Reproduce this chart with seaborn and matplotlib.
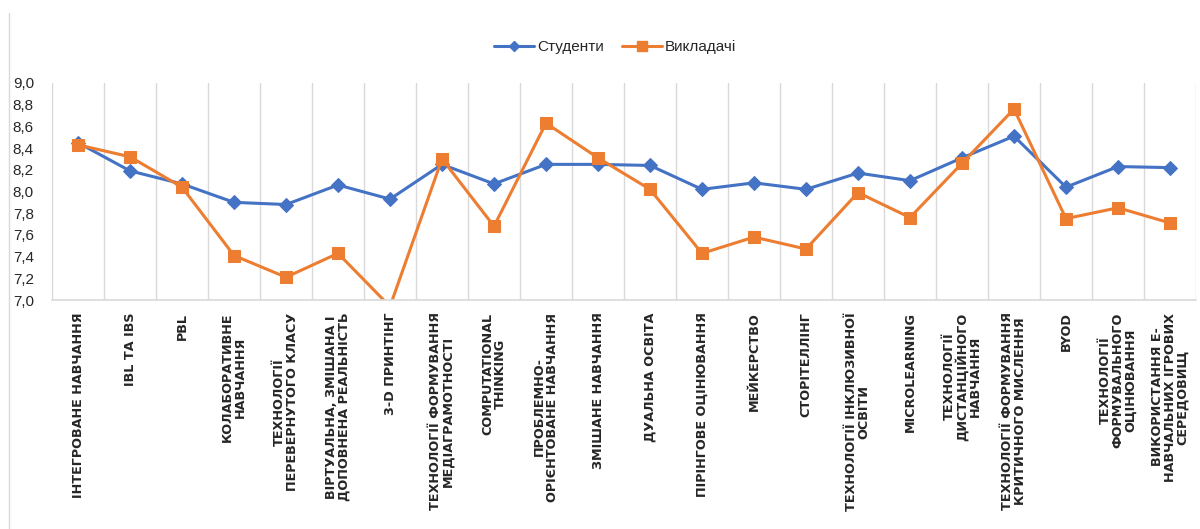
import numpy as np
import pandas as pd
import matplotlib
matplotlib.use("Agg")
import matplotlib.pyplot as plt
from matplotlib.lines import Line2D
import seaborn as sns

# categories (x axis), as shown on the chart
categories = [
    "ІНТЕГРОВАНЕ НАВЧАННЯ",
    "IBL ТА IBS",
    "PBL",
    "КОЛАБОРАТИВНЕ\nНАВЧАННЯ",
    "ТЕХНОЛОГІЇ\nПЕРЕВЕРНУТОГО КЛАСУ",
    "ВІРТУАЛЬНА, ЗМІШАНА І\nДОПОВНЕНА РЕАЛЬНІСТЬ",
    "3-D ПРИНТІНГ",
    "ТЕХНОЛОГІЇ ФОРМУВАННЯ\nМЕДІАГРАМОТНОСТІ",
    "COMPUTATIONAL\nTHINKING",
    "ПРОБЛЕМНО-\nОРІЄНТОВАНЕ НАВЧАННЯ",
    "ЗМІШАНЕ НАВЧАННЯ",
    "ДУАЛЬНА ОСВІТА",
    "ПІРІНГОВЕ ОЦІНЮВАННЯ",
    "МЕЙКЕРСТВО",
    "СТОРІТЕЛЛІНГ",
    "ТЕХНОЛОГІЇ ІНКЛЮЗИВНОЇ\nОСВІТИ",
    "MICROLEARNING",
    "ТЕХНОЛОГІЇ\nДИСТАНЦІЙНОГО\nНАВЧАННЯ",
    "ТЕХНОЛОГІЇ ФОРМУВАННЯ\nКРИТИЧНОГО МИСЛЕННЯ",
    "BYOD",
    "ТЕХНОЛОГІЇ\nФОРМУВАЛЬНОГО\nОЦІНЮВАННЯ",
    "ВИКОРИСТАННЯ Е-\nНАВЧАЛЬНИХ ІГРОВИХ\nСЕРЕДОВИЩ",
]

# mean scores
students = [8.45, 8.19, 8.07, 7.90, 7.88, 8.06, 7.93, 8.25, 8.07, 8.25, 8.25,
            8.24, 8.02, 8.08, 8.02, 8.17, 8.10, 8.31, 8.51, 8.04, 8.23, 8.22]
teachers = [8.43, 8.32, 8.04, 7.41, 7.21, 7.43, 6.94, 8.30, 7.68, 8.63, 8.31,
            8.02, 7.43, 7.58, 7.47, 7.99, 7.76, 8.26, 8.76, 7.75, 7.85, 7.71]

yticks = [7.0, 7.2, 7.4, 7.6, 7.8, 8.0, 8.2, 8.4, 8.6, 8.8, 9.0]

sns.set_style("white")
plt.rcParams["font.family"] = ["DejaVu Sans"]

blue = "#4472C4"
orange = "#ED7D31"
grid_col = "#D9D9D9"

df = pd.DataFrame({"pos": np.arange(len(categories)),
                   "Студенти": students, "Викладачі": teachers})

fig = plt.figure(figsize=(12, 5.29), dpi=100)
ax = fig.add_axes([52 / 1200, 1 - 300 / 529, 1144 / 1200, 217 / 529])

sns.lineplot(data=df, x="pos", y="Студенти", ax=ax, color=blue, linewidth=2.2,
             marker="D", markersize=7, markeredgecolor=blue, label="Студенти")
sns.lineplot(data=df, x="pos", y="Викладачі", ax=ax, color=orange, linewidth=2.2,
             marker="s", markersize=8, markeredgecolor=orange, label="Викладачі")

ax.set_xlim(-0.5, len(categories) - 0.5)
ax.set_ylim(7.0, 9.0)

# vertical grid between categories
ax.set_xticks(np.arange(-0.5, len(categories), 1.0), minor=True)
ax.grid(True, which="minor", axis="x", color=grid_col, linewidth=1)
ax.grid(False, which="major")
ax.tick_params(which="both", length=0)

ax.set_xticks(np.arange(len(categories)))
ax.set_xticklabels(categories, rotation=90, fontsize=9.2, color="#262626",
                   fontweight="bold", family=["DejaVu Sans"],
                   va="top", ha="center", multialignment="center",
                   linespacing=0.95)
ax.tick_params(axis="x", pad=9)

ax.set_yticks(yticks)
ax.set_yticklabels([f"{v:.1f}".replace(".", ",") for v in yticks],
                   fontsize=11, color="#262626",
                   family=["Liberation Sans Narrow", "Liberation Sans", "DejaVu Sans"])
ax.tick_params(axis="y", pad=13)

ax.set_xlabel("")
ax.set_ylabel("")
for side in ["top", "right", "left"]:
    ax.spines[side].set_visible(False)
ax.spines["bottom"].set_color(grid_col)
ax.spines["bottom"].set_linewidth(1.2)

ax.get_legend().remove()
handles = [
    Line2D([], [], color=blue, linewidth=2.2, marker="D", markersize=5),
    Line2D([], [], color=orange, linewidth=2.2, marker="s", markersize=7),
]
fig.legend(handles, ["Студенти", "Викладачі"], loc="center",
           bbox_to_anchor=(615 / 1200, 1 - 47 / 529), ncol=2, frameon=False,
           handlelength=2.6, handletextpad=0.2, columnspacing=1.2,
           prop={"family": ["Liberation Sans Narrow", "Liberation Sans", "DejaVu Sans"],
                 "size": 11})

# chart border on the left
fig.add_artist(Line2D([9 / 1200, 9 / 1200], [0, 1 - 13 / 529],
                      color=grid_col, linewidth=1, transform=fig.transFigure))

fig.savefig("out.png", dpi=100)
